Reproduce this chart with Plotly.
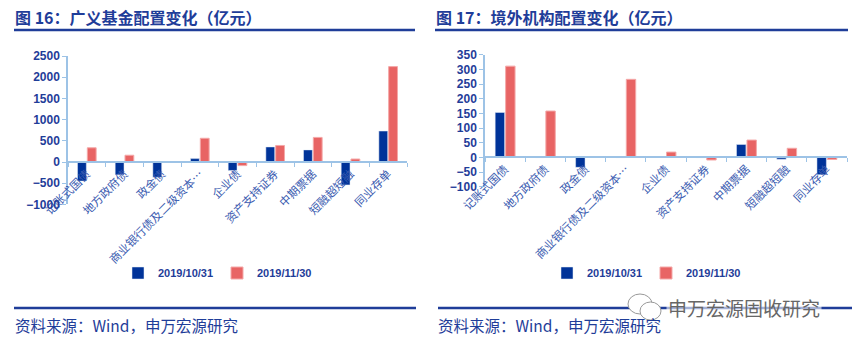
import plotly.graph_objects as go

W, H = 862, 349

categories = ["记账式国债", "地方政府债", "政金债", "商业银行债及二级资本…", "企业债",
              "资产支持证券", "中期票据", "短融超短融", "同业存单"]
series_names = ["2019/10/31", "2019/11/30"]

fund_oct = [-450, -300, -360, 80, -200, 355, 285, -540, 730]
fund_nov = [335, 160, 10, 560, -85, 390, 580, 70, 2250]

foreign_oct = [153, -1, -34, -1, 2, -1, 44, -6, -59]
foreign_nov = [311, 158, 0, 266, 18, -9, 59, 31, -7]

left_ticks = [-1000, -500, 0, 500, 1000, 1500, 2000, 2500]
right_ticks = [-100, -50, 0, 50, 100, 150, 200, 250, 300, 350]

BLUE = "#003399"
RED = "#E86464"
TXT = "#1F3D99"
CAT = "#3A5BB0"
AXIS = "#9DC3E6"

def px(x):
    return x / W

def py(y):
    return 1 - y / H

fig = go.Figure()
fig.add_trace(go.Bar(x=categories, y=fund_oct, name=series_names[0], marker=dict(color=BLUE),
                     xaxis="x", yaxis="y", legend="legend"))
fig.add_trace(go.Bar(x=categories, y=fund_nov, name=series_names[1],
                     marker=dict(color=RED, line=dict(color="#F4A8A8", width=1)),
                     xaxis="x", yaxis="y", legend="legend"))
fig.add_trace(go.Bar(x=categories, y=foreign_oct, name=series_names[0], marker=dict(color=BLUE),
                     xaxis="x2", yaxis="y2", legend="legend2"))
fig.add_trace(go.Bar(x=categories, y=foreign_nov, name=series_names[1],
                     marker=dict(color=RED, line=dict(color="#F4A8A8", width=1)),
                     xaxis="x2", yaxis="y2", legend="legend2"))

catfont = dict(family="Noto Sans CJK SC", size=11.5, color=CAT)
numfont = dict(family="Liberation Sans, Arial", size=12, color=TXT, weight="bold")

xcommon = dict(type="category", tickangle=-45, tickfont=catfont, showline=True, linecolor=AXIS,
               linewidth=1.5, ticks="outside", tickson="boundaries", ticklen=4, tickcolor=AXIS,
               showgrid=False, zeroline=False, anchor="free", fixedrange=True, automargin=False)
ycommon = dict(tickfont=numfont, showline=True, linecolor=AXIS, linewidth=1.5, ticks="outside",
               ticklen=4, tickcolor=AXIS, showgrid=False, zeroline=False, fixedrange=True,
               automargin=False)

y0_left = 162
y0_right = 157.3

legfont = dict(family="Liberation Sans, Arial", size=11, color=TXT, weight="bold")

fig.update_layout(
    width=W, height=H, margin=dict(l=0, r=0, t=0, b=0, autoexpand=False),
    paper_bgcolor="white", plot_bgcolor="white",
    barmode="group", bargap=0.48, bargroupgap=0.1,
    xaxis=dict(xcommon, domain=[px(68), px(407)], position=py(y0_left)),
    yaxis=dict(ycommon, domain=[py(204.4), py(56)], range=[-1000, 2500], tickvals=left_ticks, anchor="x"),
    xaxis2=dict(xcommon, domain=[px(485), px(847)], position=py(y0_right)),
    yaxis2=dict(ycommon, domain=[py(186.7), py(54.7)], range=[-100, 350], tickvals=right_ticks, anchor="x2"),
    legend=dict(orientation="h", x=px(118), xanchor="left", y=py(273), yanchor="middle",
                font=legfont, bgcolor="rgba(0,0,0,0)", itemclick=False, entrywidth=54,
                itemwidth=30),
    legend2=dict(orientation="h", x=px(547), xanchor="left", y=py(273), yanchor="middle",
                 font=legfont, bgcolor="rgba(0,0,0,0)", itemclick=False, entrywidth=54,
                 itemwidth=30),
    showlegend=True,
)

titlefont = dict(family="Noto Sans CJK SC", size=16, color=TXT, weight="bold")
srcfont = dict(family="Noto Sans CJK SC", size=15.5, color=TXT)

annotations = [
    dict(text="图 16：广义基金配置变化（亿元）", x=px(13), y=py(17), xanchor="left", yanchor="middle",
         font=titlefont),
    dict(text="图 17：境外机构配置变化（亿元）", x=px(434), y=py(17), xanchor="left", yanchor="middle",
         font=titlefont),
    dict(text="资料来源：Wind，申万宏源研究", x=px(13), y=py(325), xanchor="left", yanchor="middle",
         font=srcfont),
    dict(text="资料来源：Wind，申万宏源研究", x=px(436), y=py(325), xanchor="left", yanchor="middle",
         font=srcfont),
    dict(text="申万宏源固收研究", x=px(666), y=py(307), xanchor="left", yanchor="middle",
         font=dict(family="Noto Sans CJK SC", size=19, color="#666666"), bgcolor="rgba(255,255,255,0.6)"),
]
for a in annotations:
    a.update(xref="paper", yref="paper", showarrow=False)
fig.update_layout(annotations=annotations)

shapes = [
    dict(type="line", x0=px(14), x1=px(415), y0=py(30), y1=py(30), line=dict(color="#1F3D99", width=2.5)),
    dict(type="line", x0=px(435), x1=px(848), y0=py(30), y1=py(30), line=dict(color="#1F3D99", width=2.5)),
    dict(type="line", x0=px(14), x1=px(416), y0=py(308), y1=py(308), line=dict(color="#1F3D99", width=2.5)),
    dict(type="line", x0=px(438), x1=px(852), y0=py(308), y1=py(308), line=dict(color="#1F3D99", width=2.5)),
    # wechat-like icon near the watermark
    dict(type="circle", x0=px(628), x1=px(652), y0=py(314), y1=py(294),
         line=dict(color="#999999", width=1), fillcolor="white"),
    dict(type="circle", x0=px(640), x1=px(661), y0=py(320), y1=py(302),
         line=dict(color="#999999", width=1), fillcolor="white"),
]
for s in shapes:
    s.update(xref="paper", yref="paper", layer="above")
fig.update_layout(shapes=shapes)

fig.write_html("out.html")
